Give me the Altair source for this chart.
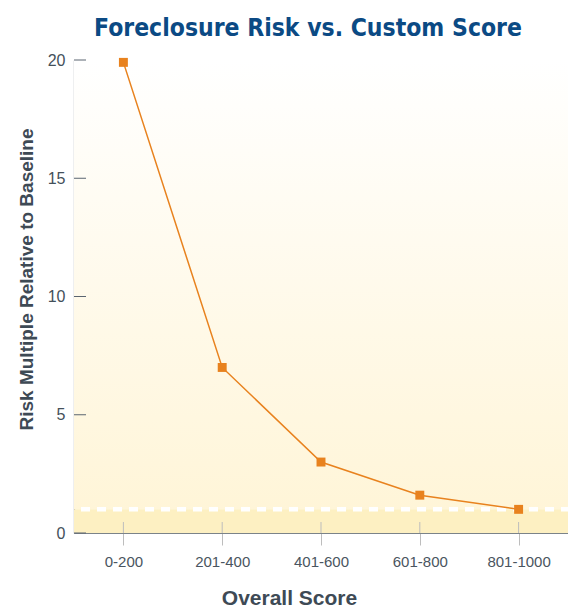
import altair as alt
import pandas as pd

# ---- data ----
categories = ["0-200", "201-400", "401-600", "601-800", "801-1000"]
risk = [19.9, 7.0, 3.0, 1.6, 1.0]
y_ticks = [0, 5, 10, 15, 20]
baseline = [1.0]
y_max = [20]
y_min = [0]

W, H = 494, 473
ORANGE = "#e8821e"
AXIS_TXT = "#3e4a55"

df = pd.DataFrame({"score": categories, "risk": risk})
ticks_df = pd.DataFrame({"v": y_ticks})
base_df = pd.DataFrame({"b": baseline, "top": y_max, "zero": y_min})

xscale = alt.Scale(type="point", padding=0.5, domain=categories)
yscale = alt.Scale(domain=[0, 20], nice=False)

x_axis = alt.Axis(
    title="Overall Score", titleFont="Liberation Sans", titleFontSize=21,
    titleFontWeight="bold", titleColor=AXIS_TXT, titleX=215, titleY=71,
    titleBaseline="alphabetic", titleAlign="center",
    labelFont="Liberation Sans", labelFontSize=15, labelColor="#4a5560",
    labelPadding=9, labelAngle=0, tickSize=12, tickColor="#bdbdbd",
    tickWidth=1, domainColor="#7b8389", domainWidth=1.2, grid=False,
)
y_axis = alt.Axis(
    title="Risk Multiple Relative to Baseline", titleFont="Liberation Sans",
    titleFontSize=19, titleFontWeight="bold", titleColor=AXIS_TXT,
    titleAngle=270, titleX=-42, titleY=219, titleBaseline="alphabetic",
    titleAlign="center",
    labelFont="Liberation Sans", labelFontSize=16, labelColor="#44505a",
    labelPadding=9, ticks=False, values=y_ticks, domainColor="#5a6470",
    domainWidth=1.2, grid=False,
)

gradient = alt.Gradient(
    gradient="linear",
    stops=[alt.GradientStop(color="#ffffff", offset=0),
           alt.GradientStop(color="#fff5d8", offset=1)],
    x1=0, x2=0, y1=0, y2=1,
)

grad = alt.Chart(base_df).mark_rect(color=gradient).encode(
    x=alt.value(0), x2=alt.value(W),
    y=alt.Y("top:Q", scale=yscale, axis=y_axis), y2="b:Q",
)

band = alt.Chart(base_df).mark_rect(color="#fdf0c2").encode(
    x=alt.value(0), x2=alt.value(W),
    y=alt.Y("b:Q", scale=yscale, axis=y_axis), y2="zero:Q",
)

xticks_up = alt.Chart(df).mark_rule(color="#bdbdbd", strokeWidth=1).encode(
    x=alt.X("score:N", scale=xscale, sort=categories, axis=x_axis),
    y=alt.value(H - 11), y2=alt.value(H),
)

yticks_in = alt.Chart(ticks_df).mark_rule(color="#5a6470", strokeWidth=1).encode(
    x=alt.value(0), x2=alt.value(12),
    y=alt.Y("v:Q", scale=yscale, axis=y_axis),
)

dashed = alt.Chart(base_df).mark_rule(
    color="#ffffff", strokeWidth=4.5, strokeDash=[9, 7], strokeDashOffset=9
).encode(
    x=alt.value(0), x2=alt.value(W),
    y=alt.Y("b:Q", scale=yscale, axis=y_axis),
)

line = alt.Chart(df).mark_line(color=ORANGE, strokeWidth=1.5).encode(
    x=alt.X("score:N", scale=xscale, sort=categories, axis=x_axis),
    y=alt.Y("risk:Q", scale=yscale, axis=y_axis),
)

points = alt.Chart(df).mark_point(
    shape="square", filled=True, size=80, opacity=1, color=ORANGE
).encode(
    x=alt.X("score:N", scale=xscale, sort=categories, axis=x_axis),
    y=alt.Y("risk:Q", scale=yscale, axis=y_axis),
)

chart = alt.layer(
    grad, band, xticks_up, yticks_in, dashed, line, points
).properties(
    width=W, height=H,
    autosize=alt.AutoSizeParams(type="none"),
    padding={"left": 66, "top": 52, "right": 0, "bottom": 76},
    title=alt.TitleParams(
        "Foreclosure Risk vs. Custom Score", font="DejaVu Sans Condensed",
        fontSize=24.5, fontWeight="bold", color="#0b4a84", anchor="middle",
        offset=11, dx=-13,
    ),
).configure_view(stroke=None)

chart.save("out.html", embed_options={"renderer": "svg", "actions": False})
